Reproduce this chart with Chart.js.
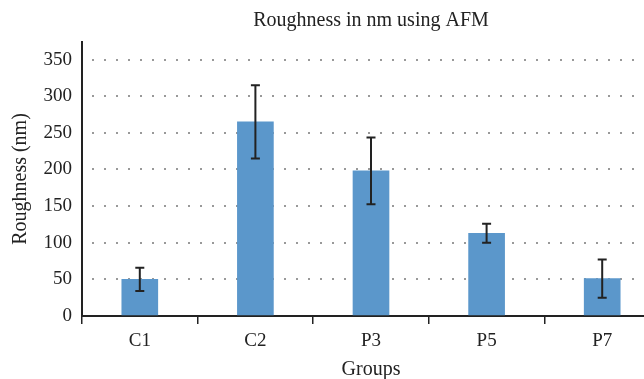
<!DOCTYPE html>
<html>
<head>
<meta charset="utf-8">
<script src="https://cdn.jsdelivr.net/npm/chart.js@4/dist/chart.umd.min.js"></script>
<style>
html,body{margin:0;padding:0;background:#fff;overflow:hidden;}
#wrap{width:660px;height:384px;position:relative;}
</style>
</head>
<body>
<div id="wrap"><canvas id="c" width="660" height="384"></canvas></div>
<script>
const categories = ["C1", "C2", "P3", "P5", "P7"];
const roughness = [50, 265, 198, 113, 51];
const errors = [16, 50, 45.5, 13, 26];
const yTickValues = [0, 50, 100, 150, 200, 250, 300, 350];

const FONT = "'Liberation Serif', 'Times New Roman', serif";
const INK = "#222222";

const errorBarPlugin = {
  id: "errorBars",
  afterDatasetsDraw(chart) {
    const meta = chart.getDatasetMeta(0);
    const ys = chart.scales.y;
    const ctx = chart.ctx;
    ctx.save();
    ctx.strokeStyle = INK;
    ctx.lineWidth = 2;
    meta.data.forEach((bar, i) => {
      const v = roughness[i], e = errors[i];
      const yt = ys.getPixelForValue(v + e);
      const yb = ys.getPixelForValue(v - e);
      const x = bar.x;
      ctx.beginPath();
      ctx.moveTo(x, yt); ctx.lineTo(x, yb);
      ctx.moveTo(x - 4.5, yt); ctx.lineTo(x + 4.5, yt);
      ctx.moveTo(x - 4.5, yb); ctx.lineTo(x + 4.5, yb);
      ctx.stroke();
    });
    ctx.restore();
  }
};

new Chart(document.getElementById("c"), {
  type: "bar",
  data: {
    labels: categories,
    datasets: [{
      data: roughness,
      backgroundColor: "#5b97cb",
      borderWidth: 0,
      barThickness: 36
    }]
  },
  options: {
    responsive: false,
    animation: false,
    devicePixelRatio: 1,
    layout: { padding: { top: 3, left: 0, right: 0, bottom: 0 } },
    plugins: {
      legend: { display: false },
      tooltip: { enabled: false },
      title: {
        display: true,
        text: "Roughness in nm using AFM",
        fullSize: false,
        color: INK,
        font: { family: FONT, size: 20, weight: "normal" },
        padding: { top: 6, bottom: 9 }
      }
    },
    scales: {
      x: {
        offset: true,
        border: { display: true, color: INK, width: 2 },
        grid: { display: true, drawOnChartArea: false, drawTicks: true, tickLength: 8, color: INK, lineWidth: 1.5, offset: true },
        ticks: { color: INK, font: { family: FONT, size: 19 }, padding: 6 },
        title: { display: true, text: "Groups", color: INK, font: { family: FONT, size: 20 }, padding: { top: 0, bottom: 2 } },
        afterFit(s) { s.height = 68; }
      },
      y: {
        min: 0,
        max: 374,
        border: { display: true, color: INK, width: 2, dash: [2, 10], dashOffset: -9 },
        grid: { display: true, drawTicks: false, color: "#999999", lineWidth: 2 },
        ticks: { stepSize: 50, color: INK, font: { family: FONT, size: 19 }, padding: 10 },
        afterBuildTicks(s) { s.ticks = yTickValues.map(v => ({ value: v })); },
        title: { display: true, text: "Roughness (nm)", color: INK, font: { family: FONT, size: 20 }, padding: { top: 9, bottom: 0 } },
        afterFit(s) { s.width = 82; }
      }
    }
  },
  plugins: [errorBarPlugin]
});
</script>
</body>
</html>
